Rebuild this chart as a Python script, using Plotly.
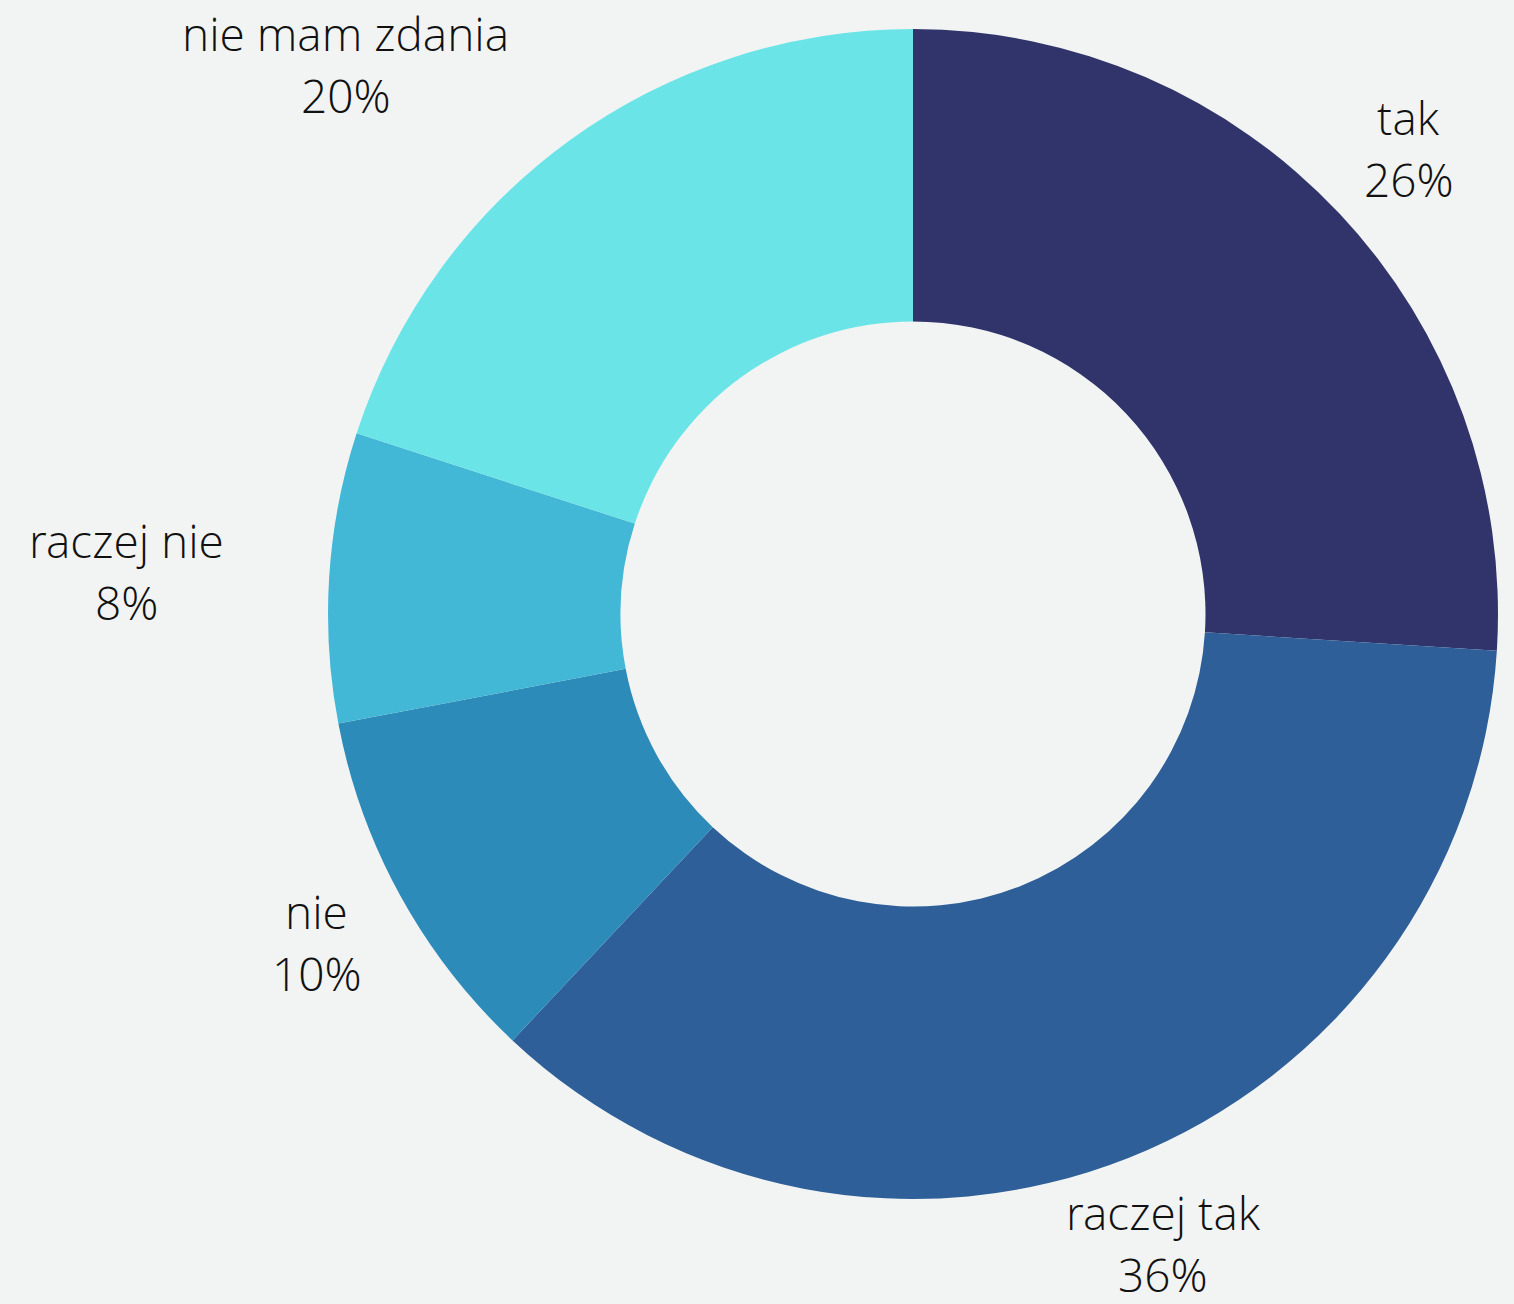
import math
import plotly.graph_objects as go

# ---- data ----
labels = ["tak", "raczej tak", "nie", "raczej nie", "nie mam zdania"]
values = [26, 36, 10, 8, 20]
colors = ["#31346B", "#2E5F98", "#2D8BB9", "#43B7D6", "#6BE4E7"]

# ---- layout constants (pixels) ----
W, H = 1514, 1304
CX, CY, R = 913, 614, 585
FS = 46
LABEL_R = 1.163 * R      # radius of label centres
HALF_H = 48              # half height of a two-line label block
LINE_SHIFT = 31          # half of the line spacing
MIN_GAP = 30             # minimal horizontal gap to the ring
PUSH_GAP = 100           # gap used when a label has to be pushed away
BOTTOM_LIMIT = H - 61    # lowest allowed centre of a label block
BG = "#F2F4F3"
FONT = "Open Sans Light, Open Sans, sans-serif"

# approximate glyph widths (em) for block-size estimation
CW = {"a": .556, "c": .48, "d": .61, "e": .56, "i": .25, "j": .25, "k": .5,
      "m": .87, "n": .61, "r": .4, "t": .35, "z": .47, " ": .26, "%": .82}


def text_w(s):
    return sum(CW.get(ch, .572) for ch in s) * FS


fig = go.Figure(go.Pie(
    labels=labels,
    values=values,
    hole=0.5,
    sort=False,
    direction="clockwise",
    rotation=0,
    marker=dict(colors=colors, line=dict(width=0)),
    textinfo="none",
    hoverinfo="label+percent",
    showlegend=False,
    domain=dict(x=[(CX - R) / W, (CX + R) / W],
                y=[1 - (CY + R) / H, 1 - (CY - R) / H]),
))

total = sum(values)
cum = 0
annotations = []
for lab, v in zip(labels, values):
    mid = (cum + v / 2) / total * 2 * math.pi
    cum += v
    dx, dy = math.sin(mid), -math.cos(mid)
    pct = f"{round(v / total * 100)}%"
    half_w = max(text_w(lab), text_w(pct)) / 2
    px, py = CX + LABEL_R * dx, CY + LABEL_R * dy
    py = min(py, BOTTOM_LIMIT)
    # row of the block nearest to the centre
    y_near = min(max(CY, py - HALF_H), py + HALF_H)
    ddy = y_near - CY
    if abs(ddy) < R:
        ring_dx = math.sqrt(R * R - ddy * ddy)
        if dx >= 0:
            gap = (px - half_w) - (CX + ring_dx)
            if gap < MIN_GAP:
                px = CX + ring_dx + PUSH_GAP + half_w
        else:
            gap = (CX - ring_dx) - (px + half_w)
            if gap < MIN_GAP:
                px = CX - ring_dx - PUSH_GAP - half_w
    for txt, shift in ((lab, -LINE_SHIFT), (pct, LINE_SHIFT)):
        annotations.append(dict(
            x=px / W, y=1 - (py + shift) / H, xref="paper", yref="paper",
            text=txt, showarrow=False,
            xanchor="center", yanchor="middle", align="center",
            font=dict(family=FONT, size=FS, color="#111111", weight=300),
        ))

fig.update_layout(
    width=W, height=H,
    margin=dict(l=0, r=0, t=0, b=0),
    paper_bgcolor=BG, plot_bgcolor=BG,
    annotations=annotations,
)

fig.write_html(
    "out.html",
    config={"displayModeBar": False},
    post_script="document.body.style.margin='0';"
                "document.body.style.background='" + BG + "';",
)
